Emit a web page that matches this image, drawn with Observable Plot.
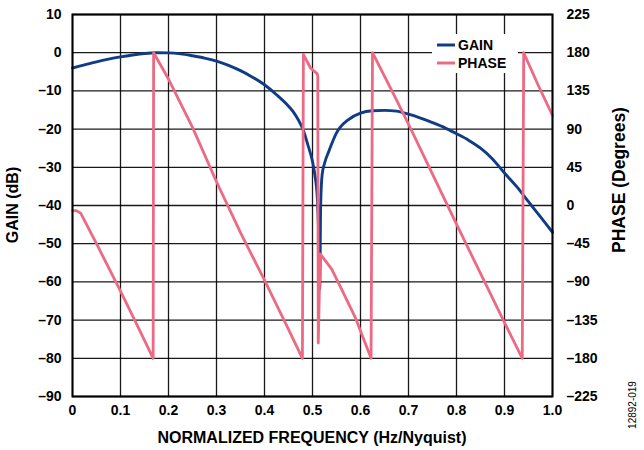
<!DOCTYPE html>
<html>
<head>
<meta charset="utf-8">
<script src="https://cdn.jsdelivr.net/npm/d3@7"></script>
<script src="https://cdn.jsdelivr.net/npm/@observablehq/plot@0.6"></script>
<style>
  html, body { margin: 0; padding: 0; background: #fff; }
  svg { display: block; }
</style>
</head>
<body>
<div id="chart"></div>
<script>
// ---- Data ----
const gainFreq = [0, 0.025, 0.05, 0.075, 0.1, 0.125, 0.15, 0.175, 0.2, 0.225, 0.25, 0.275, 0.3, 0.325, 0.35, 0.375, 0.4, 0.425, 0.45, 0.46, 0.47, 0.48, 0.49, 0.5, 0.505, 0.51, 0.513, 0.515, 0.517, 0.52, 0.525, 0.535, 0.55, 0.575, 0.6, 0.625, 0.65, 0.675, 0.7, 0.725, 0.75, 0.775, 0.8, 0.825, 0.85, 0.875, 0.9, 0.925, 0.95, 0.975, 1.0];
const gainDb = [-4.0, -3.2, -2.4, -1.7, -1.1, -0.6, -0.2, 0, -0.05, -0.3, -0.8, -1.4, -2.2, -3.3, -4.7, -6.4, -8.4, -11, -14, -15.5, -17.5, -20, -24, -28.5, -32, -38, -48, -62, -40, -32, -29, -25.5, -21, -17.5, -15.8, -15.2, -15.1, -15.3, -16.1, -17.1, -18.3, -19.6, -21.2, -22.9, -25, -27.8, -31.5, -35, -39, -43, -47];

const phaseFreq = [0, 0.008, 0.017, 0.05, 0.1, 0.14, 0.168, 0.169, 0.2, 0.25, 0.3, 0.35, 0.4, 0.45, 0.479, 0.481, 0.496, 0.51, 0.511, 0.512, 0.516, 0.52, 0.54, 0.56, 0.59, 0.622, 0.625, 0.67, 0.7, 0.75, 0.8, 0.85, 0.9, 0.937, 0.94, 0.97, 1.0];
const phaseDeg = [-6, -6, -9, -45, -101, -147, -180, 180, 149, 92, 28, -32, -88, -146, -180, 178, 162, 155, 152, -162, -57, -60, -75, -98, -133, -180, 180, 130, 96, 37, -22, -80, -138, -180, 180, 142, 106];

const xTicks = [0, 0.1, 0.2, 0.3, 0.4, 0.5, 0.6, 0.7, 0.8, 0.9, 1.0];
const xTickLabels = ["0", "0.1", "0.2", "0.3", "0.4", "0.5", "0.6", "0.7", "0.8", "0.9", "1.0"];
const gainTicks = [10, 0, -10, -20, -30, -40, -50, -60, -70, -80, -90];
const gainTickLabels = ["10", "0", "–10", "–20", "–30", "–40", "–50", "–60", "–70", "–80", "–90"];
const phaseTicks = [225, 180, 135, 90, 45, 0, -45, -90, -135, -180, -225];
const phaseTickLabels = ["225", "180", "135", "90", "45", "0", "–45", "–90", "–135", "–180", "–225"];

const seriesNames = ["GAIN", "PHASE"];
const seriesColors = ["#103c85", "#ec6a83"];

// phase (degrees) -> gain axis units: 225 -> 10, -225 -> -90
const toGain = deg => deg / 4.5 - 40;

const gain = gainFreq.map((f, i) => ({f, v: gainDb[i]}));
const phase = phaseFreq.map((f, i) => ({f, v: toGain(phaseDeg[i])}));

const xLab = new Map(xTicks.map((t, i) => [t, xTickLabels[i]]));
const gLab = new Map(gainTicks.map((t, i) => [t, gainTickLabels[i]]));
const pLab = new Map(phaseTicks.map((t, i) => [toGain(t), phaseTickLabels[i]]));

const W = 644, H = 450;
const ff = "'Liberation Sans', Arial, sans-serif";
const chart = Plot.plot({
  width: W, height: H,
  marginLeft: 72, marginRight: 92, marginTop: 14, marginBottom: 54,
  x: {domain: [0, 1]},
  y: {domain: [-90, 10]},
  style: {fontFamily: ff, fontSize: "14px", fontWeight: "bold", color: "#000", background: "#fff"},
  marks: [
    Plot.gridX(xTicks, {stroke: "#000", strokeOpacity: 0.9, strokeWidth: 1.3}),
    Plot.gridY(gainTicks, {stroke: "#000", strokeOpacity: 0.9, strokeWidth: 1.3}),
    Plot.line(gain, {x: "f", y: "v", stroke: seriesColors[0], strokeWidth: 2.9, curve: "monotone-x"}),
    Plot.line(phase, {x: "f", y: "v", stroke: seriesColors[1], strokeWidth: 2.8, curve: "linear", strokeLinejoin: "round"}),
    Plot.frame({stroke: "#000", strokeWidth: 2}),
    Plot.axisX(xTicks, {tickSize: 0, tickPadding: 9, tickFormat: d => xLab.get(d), label: null, fontSize: 14, fontWeight: "bold"}),
    Plot.axisY(gainTicks, {anchor: "left", tickSize: 0, tickPadding: 11, tickFormat: d => gLab.get(d), label: null, fontSize: 14, fontWeight: "bold"}),
    Plot.axisY(phaseTicks.map(toGain), {anchor: "right", tickSize: 0, tickPadding: 14, tickFormat: d => pLab.get(d), label: null, fontSize: 14, fontWeight: "bold"})
  ]
});
document.getElementById("chart").appendChild(chart);

// ---- Titles, legend, figure id ----
const svg = d3.select(chart);
function label(x, y, rot, txt, size, weight) {
  svg.append("text")
    .attr("transform", `translate(${x},${y})` + (rot ? ` rotate(${rot})` : ""))
    .attr("text-anchor", "middle")
    .attr("font-family", ff).attr("font-size", size).attr("font-weight", weight).attr("fill", "#000")
    .text(txt);
}
label(312, 443, 0, "NORMALIZED FREQUENCY (Hz/Nyquist)", 16, "bold");
label(18, 205, -90, "GAIN (dB)", 16, "bold");
label(625, 180, -90, "PHASE (Degrees)", 17.5, "bold");
label(636, 405, -90, "12892-019", 10, "normal");

const lg = svg.append("g");
lg.append("rect").attr("x", 432).attr("y", 34).attr("width", 86).attr("height", 39).attr("fill", "#fff");
seriesNames.forEach((name, i) => {
  const y = 45 + i * 18;
  lg.append("line").attr("x1", 437).attr("x2", 455).attr("y1", y).attr("y2", y)
    .attr("stroke", seriesColors[i]).attr("stroke-width", 3);
  lg.append("text").attr("x", 458).attr("y", y + 5).attr("text-anchor", "start")
    .attr("font-family", ff).attr("font-size", 14)
    .attr("font-weight", "bold").attr("fill", "#000").text(name);
});
</script>
</body>
</html>
